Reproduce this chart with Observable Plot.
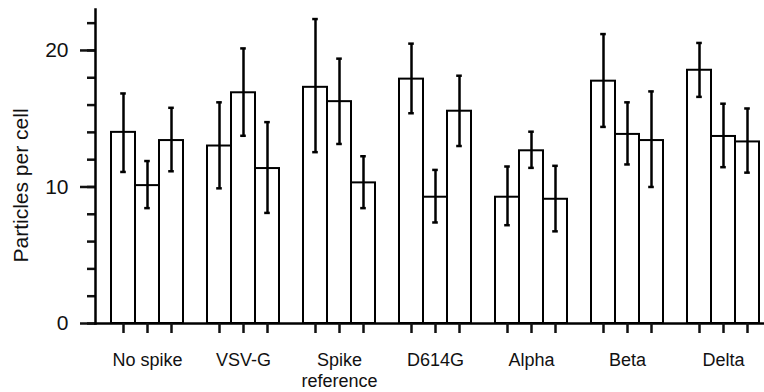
<!DOCTYPE html>
<html><head><meta charset="utf-8">
<script src="https://cdn.jsdelivr.net/npm/d3@7"></script>
<script src="https://cdn.jsdelivr.net/npm/@observablehq/plot@0.6"></script>
<style>body{margin:0;background:#fff}</style>
</head><body><div id="chart"></div>
<script>
const groups = ["No spike", "VSV-G", "Spike\nreference", "D614G", "Alpha", "Beta", "Delta"];
const barIndex = [0, 1, 2];
const mean1 = [14.0, 13.0, 17.3, 17.9, 9.25, 17.75, 18.55];
const mean2 = [10.1, 16.9, 16.25, 9.25, 12.65, 13.85, 13.7];
const mean3 = [13.4, 11.35, 10.3, 15.55, 9.1, 13.4, 13.3];
const hi1 = [16.85, 16.2, 22.3, 20.5, 11.5, 21.2, 20.55];
const lo1 = [11.1, 9.9, 12.55, 15.4, 7.2, 14.4, 16.6];
const hi2 = [11.9, 20.15, 19.4, 11.25, 14.05, 16.2, 16.1];
const lo2 = [8.45, 13.75, 13.15, 7.4, 11.4, 11.65, 11.45];
const hi3 = [15.8, 14.75, 12.25, 18.15, 11.55, 17.0, 15.75];
const lo3 = [11.15, 8.1, 8.45, 13.0, 6.75, 10.0, 11.05];
const yMajor = [0, 10, 20];
const yMinor = [0, 2, 4, 6, 8, 10, 12, 14, 16, 18, 20, 22];
const yLabel = "Particles per cell";

const series = [[mean1, hi1, lo1], [mean2, hi2, lo2], [mean3, hi3, lo3]];
const rows = groups.flatMap((g, i) => barIndex.map(j => ({
  group: g, bar: j, value: series[j][0][i], hi: series[j][1][i], lo: series[j][2][i]
})));

const chart = Plot.plot({
  width: 764,
  height: 392,
  marginLeft: 93,
  marginRight: -4.5,
  marginTop: 9,
  marginBottom: 69,
  style: {fontFamily: "'Liberation Sans', Arial, sans-serif", color: "#111", background: "#fff"},
  fx: {domain: groups, padding: 0, axis: null, label: null},
  x: {domain: barIndex, paddingInner: 0, paddingOuter: 0.47, align: 0.652, axis: null, label: null},
  y: {domain: [0, 23], axis: null, label: null},
  marks: [
    Plot.barY(rows, {fx: "group", x: "bar", y: "value", fill: "white", stroke: "black", strokeWidth: 2}),
    Plot.ruleX(rows, {fx: "group", x: "bar", y1: "lo", y2: "hi", stroke: "black", strokeWidth: 2.5}),
    Plot.tickY(rows, {fx: "group", x: "bar", y: "hi", insetLeft: 9.2, insetRight: 9.2, stroke: "black", strokeWidth: 2.5}),
    Plot.tickY(rows, {fx: "group", x: "bar", y: "lo", insetLeft: 9.2, insetRight: 9.2, stroke: "black", strokeWidth: 2.5}),
    Plot.ruleY([0], {stroke: "black", strokeWidth: 2.5}),
    Plot.axisY({ticks: yMinor, tickSize: 8, tickFormat: () => "", strokeWidth: 2.5, label: null}),
    Plot.axisY({ticks: yMajor, tickSize: 15, tickPadding: 12, fontSize: 21, strokeWidth: 2.5, label: null}),
    Plot.frame({anchor: "left", facetAnchor: "left", stroke: "black", strokeWidth: 2.5}),
    Plot.axisX({tickSize: 10, tickFormat: () => "", strokeWidth: 2.5, label: null}),
    Plot.axisFx({anchor: "bottom", tickSize: 0, tickPadding: 28, fontSize: 18, lineHeight: 1.15, dx: 4, label: null}),
    Plot.text([yLabel], {frameAnchor: "left", facetAnchor: "left", rotate: -90, dx: -74, dy: 96, fontSize: 21, fill: "#111"})
  ]
});
document.getElementById("chart").appendChild(chart);
</script>
</body></html>
